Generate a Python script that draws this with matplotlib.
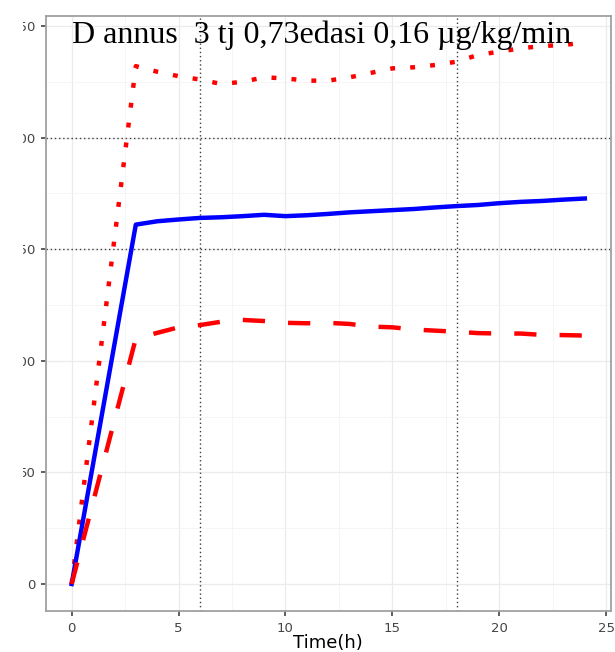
import matplotlib
matplotlib.use("Agg")
import matplotlib.pyplot as plt
from matplotlib.patches import Rectangle

# plasma concentration over time for three dosing scenarios
hours = [0, 3, 4, 5, 6, 7, 8, 9, 10, 11, 12, 13, 14, 15, 16, 17, 18, 19, 20, 21, 22, 23, 24]
conc_mid = [0, 161, 162.5, 163.3, 164, 164.3, 164.8, 165.4, 164.8, 165.2, 165.8, 166.5,
            167, 167.5, 168, 168.7, 169.3, 169.8, 170.6, 171.2, 171.6, 172.2, 172.7]
conc_low = [0, 110, 112.5, 115, 116, 117.5, 118.3, 117.8, 117, 116.8, 117, 116.5,
            115.3, 115, 114, 113.5, 113, 112.4, 112.2, 112.2, 111.6, 111.5, 111.3]
conc_high = [0, 232, 229.5, 227.5, 226, 224, 225, 227, 226.5, 225.5, 225.5, 227,
             229, 231, 231.5, 232.5, 234, 237, 238.5, 240, 241, 241.5, 242.5]

x_ticks = [0, 5, 10, 15, 20, 25]
y_ticks = [0, 50, 100, 150, 200, 250]
ref_hours = [6, 18]
ref_levels = [150, 200]
x_label = "Time(h)"
title = "D annus  3 tj 0,73edasi 0,16 µg/kg/min"

fig = plt.figure(figsize=(6.15, 6.52), dpi=100)
ax = fig.add_axes([46 / 615, 41 / 652, 564.5 / 615, 595.3 / 652])

ax.set_xlim(-1.2, 25.2)
ax.set_ylim(-12.1, 254.6)

# grid in the style of theme_bw
ax.set_xticks(x_ticks)
ax.set_yticks(y_ticks)
ax.set_xticks([t + 2.5 for t in x_ticks[:-1]], minor=True)
ax.set_yticks([v + 25 for v in y_ticks[:-1]], minor=True)
ax.grid(which="major", color="#ebebeb", lw=0.9)
ax.grid(which="minor", color="#f4f4f4", lw=0.6)
ax.set_axisbelow(True)

for s in ax.spines.values():
    s.set_color("#a0a0a0")
    s.set_linewidth(1.3)

ax.tick_params(which="major", direction="out", length=3.6, width=1.1, color="#333333",
               labelcolor="#444444", labelsize=9.5, pad=4)
ax.tick_params(which="minor", length=0)

ax.set_xlabel(x_label, fontsize=13, color="black", labelpad=-0.5)

for h in ref_hours:
    ax.axvline(h, color="#404040", lw=1.0, ls=(0, (1, 2)))
for lv in ref_levels:
    ax.axhline(lv, color="#404040", lw=1.0, ls=(0, (1, 2)))

ax.plot(hours, conc_high, color="#ff0000", lw=3.2, ls=(0, (1.1, 3.4)), dash_capstyle="butt")
ax.plot(hours, conc_mid, color="#0000ff", lw=3.2, solid_joinstyle="round")
ax.plot(hours, conc_low, color="#ff0000", lw=3.2, ls=(0, (5, 5.2)), dash_capstyle="butt")

fig.text(72 / 615, 1 - 43.3 / 652, title, ha="left", va="baseline",
         fontfamily="Liberation Serif", fontsize=23, color="black")

# left margin is blank, cutting off the leading digits of the y labels
fig.add_artist(Rectangle((0, 0), 23 / 615, 1, transform=fig.transFigure,
                         facecolor="white", edgecolor="none", zorder=10))

fig.savefig("out.png", dpi=100)
